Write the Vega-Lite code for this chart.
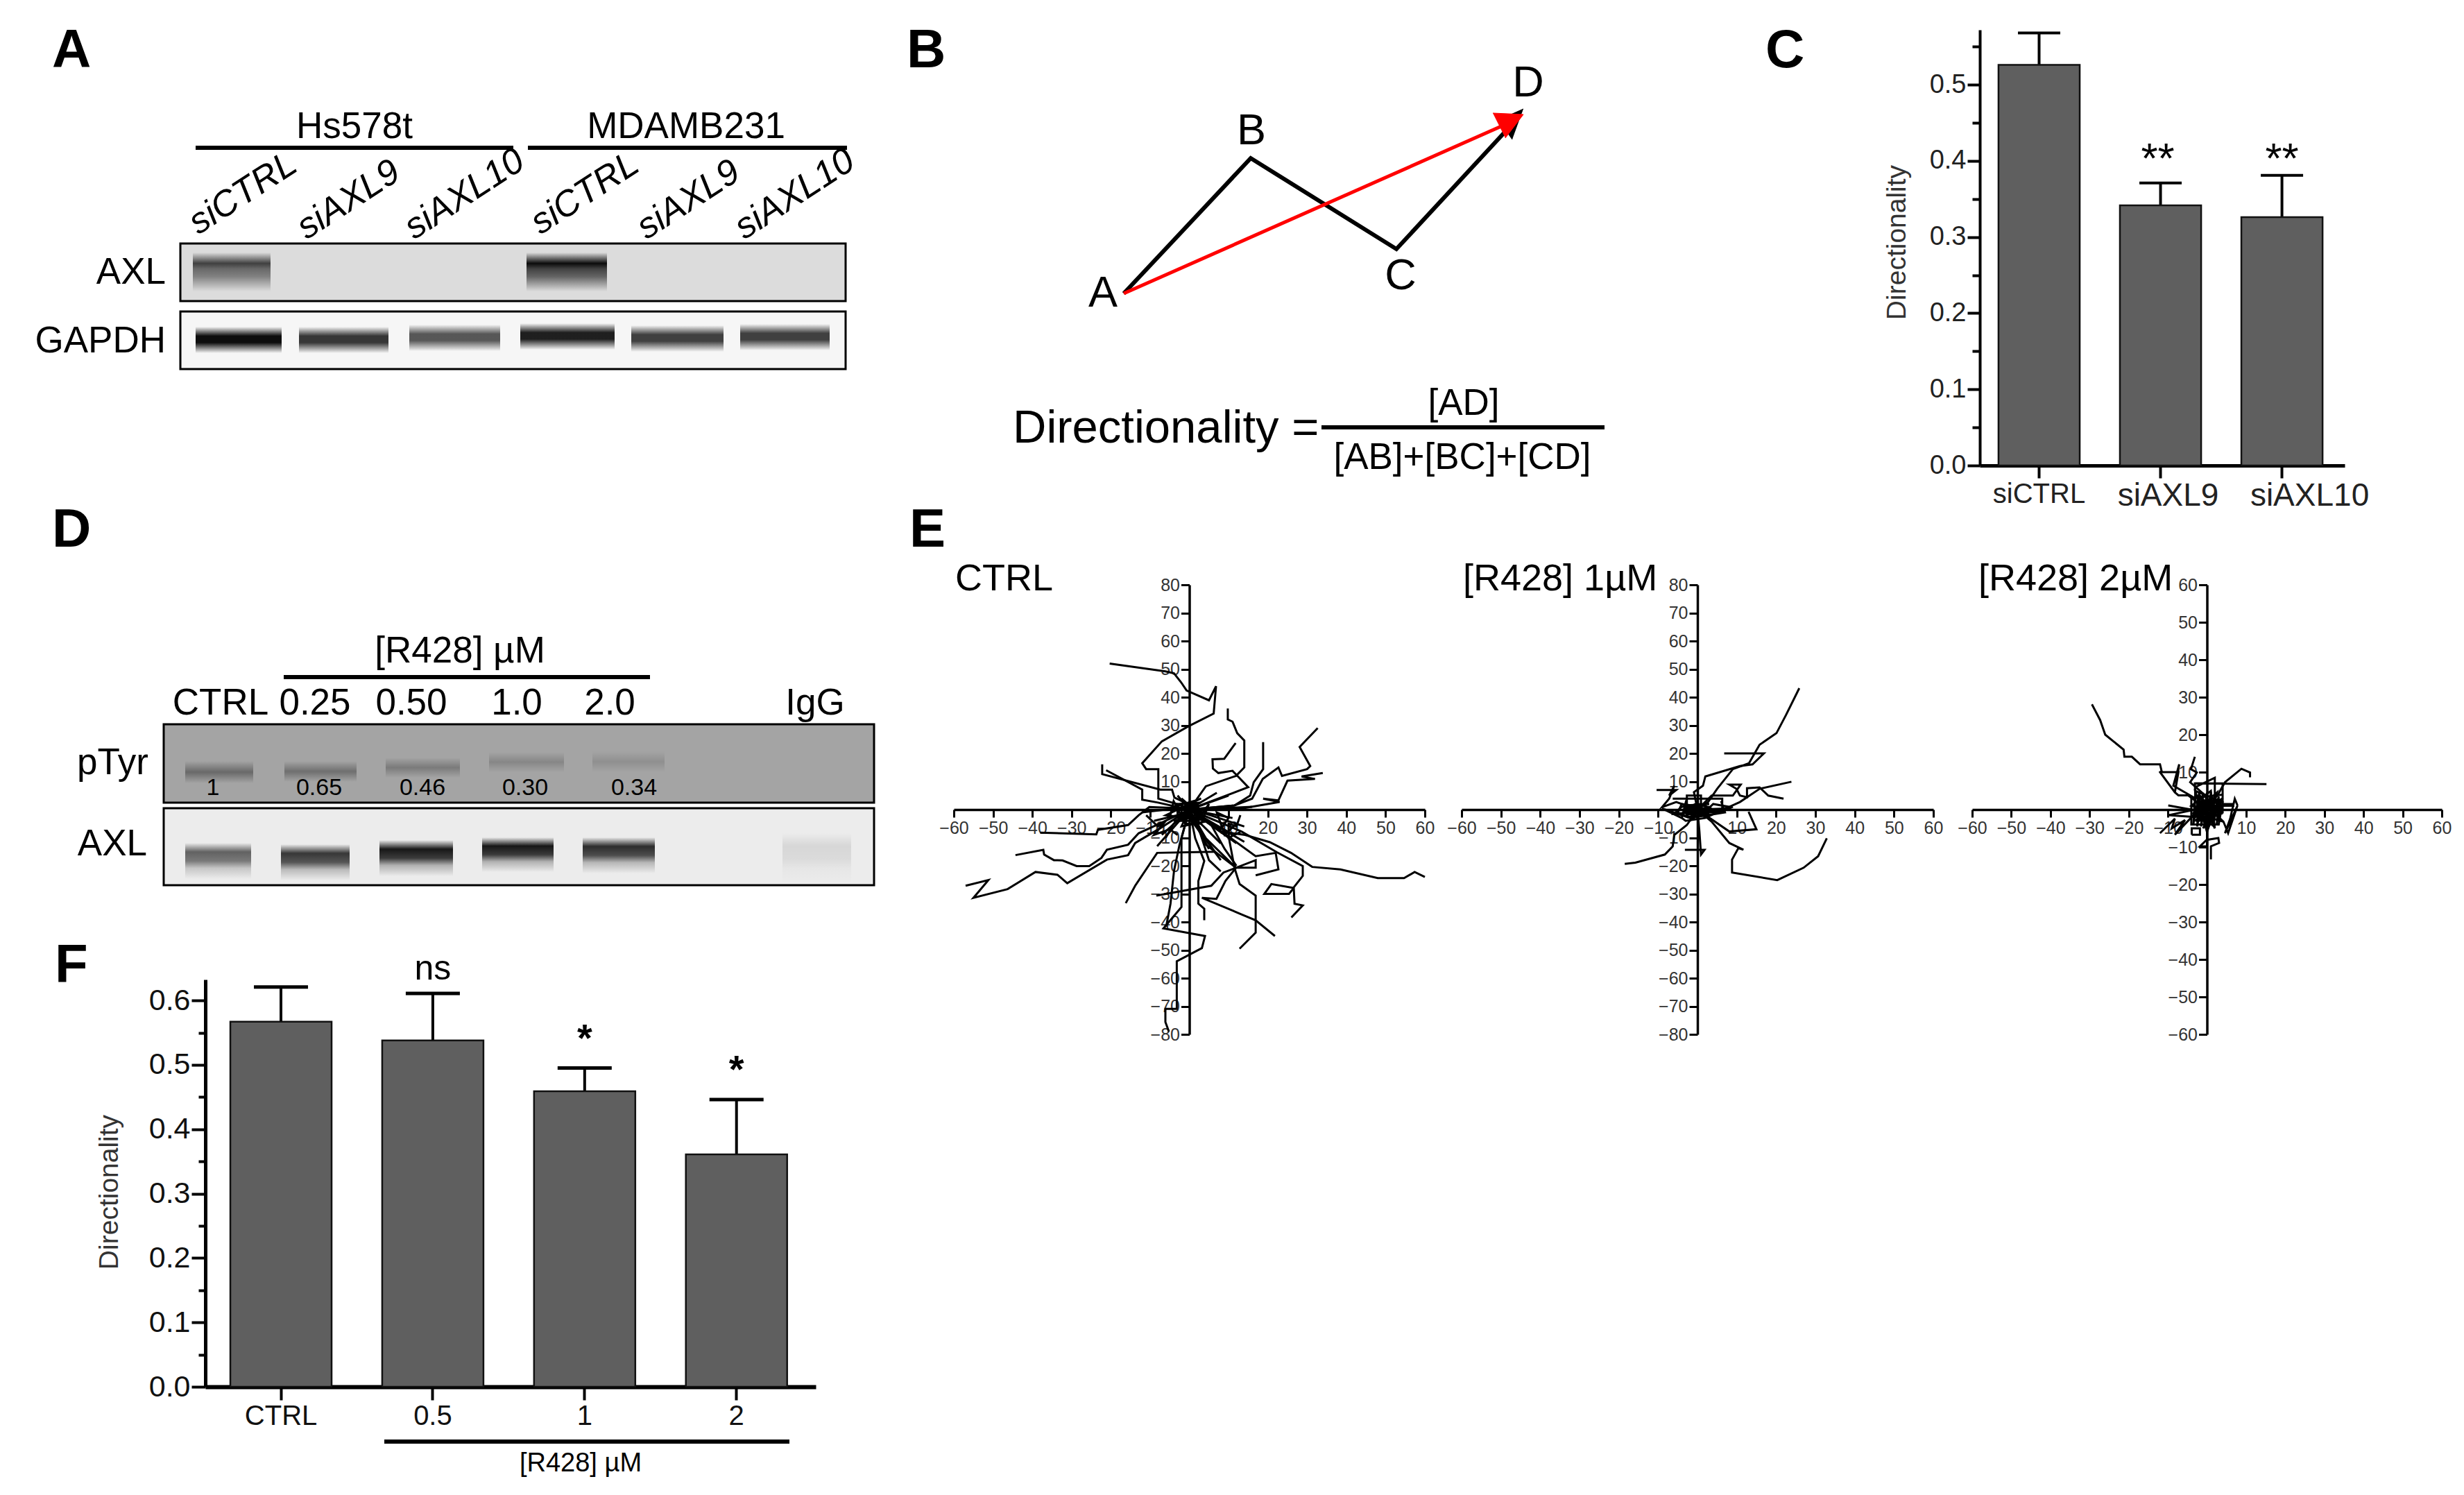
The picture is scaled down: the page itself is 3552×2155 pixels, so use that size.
{
"$schema":"https://vega.github.io/schema/vega-lite/v6.json",
"padding":0,
"bounds":"flush",
"spacing":0,
"config":{"view":{"stroke":null},"font":"Liberation Sans","text":{"font":"Liberation Sans","color":"#000"},"concat":{"spacing":0},"axis":{"grid":false,"labelFont":"Liberation Sans","titleFont":"Liberation Sans","labelOverlap":false,"labelBound":false,"labelFlush":false,"titleFontWeight":"normal","tickColor":"#000","domainColor":"#000"}},
"hconcat":[
{
"width":1,"height":1,
"encoding":{"x":{"field":"x","type":"quantitative","scale":{"domain":[0,3552],"range":[0,3552],"nice":false,"zero":false},"axis":null},"y":{"field":"y","type":"quantitative","scale":{"domain":[0,2155],"range":[0,2155],"nice":false,"zero":false},"axis":null}},
"layer":[
{"data":{"values":[
{"blot":"A-AXL","x":260,"x2":1219,"y":348,"y2":431},
{"blot":"A-GAPDH","x":260,"x2":1219,"y":446,"y2":529},
{"blot":"D-pTyr","x":236,"x2":1260,"y":1041,"y2":1154},
{"blot":"D-AXL","x":236,"x2":1260,"y":1162,"y2":1273}
]},"mark":{"type":"rect","stroke":"#000","strokeWidth":3},"encoding":{"x2":{"field":"x2"},"y2":{"field":"y2"},"color":{"field":"blot","type":"nominal","legend":null,"scale":{"domain":["A-AXL","A-GAPDH","D-pTyr","D-AXL"],"range":["#dcdcdc","#f6f6f6","#a4a4a4","#ececec"]}}}},
{"data":{"values":[
{"lane":"siCTRL Hs578t","x":278,"x2":390,"y":361,"y2":417,"intensity":0.75},
{"lane":"siCTRL MDAMB231","x":759,"x2":875,"y":361,"y2":417,"intensity":1}
]},"mark":{"type":"rect","fill":{"gradient":"linear","x1":0,"y1":0,"x2":0,"y2":1,"stops":[{"offset":0,"color":"rgba(0,0,0,0)"},{"offset":0.28,"color":"rgba(0,0,0,0.95)"},{"offset":0.42,"color":"rgba(0,0,0,0.7)"},{"offset":0.62,"color":"rgba(0,0,0,0.55)"},{"offset":1,"color":"rgba(0,0,0,0)"}]}},"encoding":{"x2":{"field":"x2"},"y2":{"field":"y2"},"opacity":{"field":"intensity","type":"quantitative","scale":null,"legend":null}}},
{"data":{"values":[
{"lane":"1","x":282,"x2":406,"y":468,"y2":506,"intensity":1},
{"lane":"2","x":431,"x2":560,"y":468,"y2":506,"intensity":0.82},
{"lane":"3","x":590,"x2":721,"y":465,"y2":503,"intensity":0.68},
{"lane":"4","x":750,"x2":886,"y":463,"y2":501,"intensity":0.92},
{"lane":"5","x":910,"x2":1043,"y":466,"y2":504,"intensity":0.78},
{"lane":"6","x":1067,"x2":1196,"y":464,"y2":502,"intensity":0.78}
]},"mark":{"type":"rect","fill":{"gradient":"linear","x1":0,"y1":0,"x2":0,"y2":1,"stops":[{"offset":0,"color":"rgba(0,0,0,0)"},{"offset":0.35,"color":"rgba(0,0,0,0.95)"},{"offset":0.6,"color":"rgba(0,0,0,0.95)"},{"offset":1,"color":"rgba(0,0,0,0)"}]}},"encoding":{"x2":{"field":"x2"},"y2":{"field":"y2"},"opacity":{"field":"intensity","type":"quantitative","scale":null,"legend":null}}},
{"data":{"values":[
{"lane":"CTRL","x":267,"x2":365,"y":1094,"y2":1126,"intensity":0.4},
{"lane":"0.25","x":410,"x2":514,"y":1094,"y2":1124,"intensity":0.36},
{"lane":"0.50","x":556,"x2":663,"y":1089,"y2":1118,"intensity":0.28},
{"lane":"1.0","x":705,"x2":813,"y":1081,"y2":1110,"intensity":0.2},
{"lane":"2.0","x":854,"x2":958,"y":1080,"y2":1110,"intensity":0.14}
]},"mark":{"type":"rect","fill":{"gradient":"linear","x1":0,"y1":0,"x2":0,"y2":1,"stops":[{"offset":0,"color":"rgba(0,0,0,0)"},{"offset":0.5,"color":"rgba(0,0,0,0.9)"},{"offset":1,"color":"rgba(0,0,0,0)"}]}},"encoding":{"x2":{"field":"x2"},"y2":{"field":"y2"},"opacity":{"field":"intensity","type":"quantitative","scale":null,"legend":null}}},
{"data":{"values":[
{"lane":"CTRL","x":267,"x2":362,"y":1212,"y2":1264,"intensity":0.65},
{"lane":"0.25","x":405,"x2":504,"y":1214,"y2":1266,"intensity":0.85},
{"lane":"0.50","x":547,"x2":653,"y":1208,"y2":1260,"intensity":1},
{"lane":"1.0","x":695,"x2":798,"y":1204,"y2":1254,"intensity":1},
{"lane":"2.0","x":840,"x2":944,"y":1204,"y2":1256,"intensity":0.9},
{"lane":"IgG","x":1128,"x2":1227,"y":1198,"y2":1271,"intensity":0.1}
]},"mark":{"type":"rect","fill":{"gradient":"linear","x1":0,"y1":0,"x2":0,"y2":1,"stops":[{"offset":0,"color":"rgba(0,0,0,0)"},{"offset":0.25,"color":"rgba(0,0,0,0.9)"},{"offset":0.5,"color":"rgba(0,0,0,0.75)"},{"offset":0.7,"color":"rgba(0,0,0,0.25)"},{"offset":1,"color":"rgba(0,0,0,0)"}]}},"encoding":{"x2":{"field":"x2"},"y2":{"field":"y2"},"opacity":{"field":"intensity","type":"quantitative","scale":null,"legend":null}}},
{"data":{"values":[
{"x":282,"x2":740,"y":210},{"x":761,"x2":1221,"y":210},{"x":409,"x2":937,"y":973},{"x":1905,"x2":2313,"y":613},{"x":554,"x2":1138,"y":2075}
]},"mark":{"type":"rule","color":"#000","strokeWidth":6},"encoding":{"x2":{"field":"x2"}}},
{"data":{"values":[{"s":0,"x":1620,"y":420},{"s":1,"x":1803,"y":225},{"s":2,"x":2013,"y":356},{"s":3,"x":2190,"y":165}]},"mark":{"type":"line","color":"#000","strokeWidth":6,"strokeJoin":"miter"},"encoding":{"order":{"field":"s"}}},
{"data":{"values":[{"s":0,"x":2196,"y":154},{"s":1,"x":2160,"y":170},{"s":2,"x":2180,"y":198}]},"mark":{"type":"line","color":"#000","fill":"#000","strokeWidth":1},"encoding":{"order":{"field":"s"}}},
{"data":{"values":[{"s":0,"x":1620,"y":420},{"s":1,"x":2180,"y":172}]},"mark":{"type":"line","color":"#ff0000","strokeWidth":5},"encoding":{"order":{"field":"s"}}},
{"data":{"values":[{"s":0,"x":2152,"y":160},{"s":1,"x":2196,"y":162},{"s":2,"x":2170,"y":196}]},"mark":{"type":"line","color":"#ff0000","fill":"#ff0000","strokeWidth":1},"encoding":{"order":{"field":"s"}}},
{"data":{"values":[{"label":"A","x":75,"y":94},{"label":"B","x":1307,"y":94},{"label":"C","x":2545,"y":94},{"label":"D","x":75,"y":785},{"label":"E","x":1311,"y":785},{"label":"F","x":79,"y":1413}]},"mark":{"type":"text","fontWeight":"bold","fontSize":78,"align":"left","baseline":"alphabetic"},"encoding":{"text":{"field":"label"}}},
{"data":{"values":[{"label":"Hs578t","x":511,"y":180},{"label":"MDAMB231","x":989,"y":180},{"label":"[R428] µM","x":663,"y":936},{"label":"CTRL","x":318,"y":1011},{"label":"0.25","x":454,"y":1011},{"label":"0.50","x":593,"y":1011},{"label":"1.0","x":745,"y":1011},{"label":"2.0","x":879,"y":1011},{"label":"IgG","x":1175,"y":1011},{"label":"[AD]","x":2110,"y":579},{"label":"[AB]+[BC]+[CD]","x":2108,"y":657}]},"mark":{"type":"text","fontSize":53,"align":"center","baseline":"middle"},"encoding":{"text":{"field":"label"}}},
{"data":{"values":[{"label":"AXL","x":239,"y":390},{"label":"GAPDH","x":239,"y":489},{"label":"pTyr","x":214,"y":1097},{"label":"AXL","x":212,"y":1214}]},"mark":{"type":"text","fontSize":53,"align":"right","baseline":"middle"},"encoding":{"text":{"field":"label"}}},
{"data":{"values":[{"label":"CTRL","x":1377,"y":832},{"label":"[R428] 1µM","x":2109,"y":832},{"label":"[R428] 2µM","x":2852,"y":832}]},"mark":{"type":"text","fontSize":54,"align":"left","baseline":"middle"},"encoding":{"text":{"field":"label"}}},
{"data":{"values":[{"label":"siCTRL","x":270,"y":337},{"label":"siAXL9","x":426,"y":344},{"label":"siAXL10","x":581,"y":344},{"label":"siCTRL","x":763,"y":337},{"label":"siAXL9","x":916,"y":344},{"label":"siAXL10","x":1057,"y":344}]},"mark":{"type":"text","fontSize":52,"fontStyle":"italic","angle":327,"align":"left","baseline":"alphabetic","dx":14,"dy":8},"encoding":{"text":{"field":"label"}}},
{"data":{"values":[{"label":"1","x":307,"y":1133},{"label":"0.65","x":460,"y":1133},{"label":"0.46","x":609,"y":1133},{"label":"0.30","x":757,"y":1133},{"label":"0.34","x":914,"y":1133}]},"mark":{"type":"text","fontSize":34,"align":"center","baseline":"middle"},"encoding":{"text":{"field":"label"}}},
{"data":{"values":[{"label":"A","x":1590,"y":420},{"label":"B","x":1804,"y":186},{"label":"C","x":2019,"y":395},{"label":"D","x":2203,"y":117}]},"mark":{"type":"text","fontSize":63,"align":"center","baseline":"middle"},"encoding":{"text":{"field":"label"}}},
{"data":{"values":[{"label":"Directionality =","x":1460,"y":615}]},"mark":{"type":"text","fontSize":67,"align":"left","baseline":"middle"},"encoding":{"text":{"field":"label"}}},
{"data":{"values":[{"label":"[R428] µM","x":837,"y":2107}]},"mark":{"type":"text","fontSize":38,"align":"center","baseline":"middle"},"encoding":{"text":{"field":"label"}}}
]
},
{
"bounds":"flush",
"spacing":0,
"hconcat":[
{"data":{"values":[{"v":0}]},"mark":{"type":"point","opacity":0},"width":295,"height":1},
{"bounds":"flush","spacing":0,"vconcat":[
{"data":{"values":[{"v":0}]},"mark":{"type":"point","opacity":0},"width":1,"height":1409},
{"width":880,"height":587,
"data":{"values":[{"dose":"CTRL","mean":0.567,"top":0.621,"sig":""},{"dose":"0.5","mean":0.538,"top":0.611,"sig":"ns"},{"dose":"1","mean":0.459,"top":0.495,"sig":"*"},{"dose":"2","mean":0.361,"top":0.446,"sig":"*"}]},
"encoding":{
"x":{"field":"dose","type":"nominal","scale":{"domain":["CTRL","0.5","1","2"],"paddingInner":0.333,"paddingOuter":0.1766,"align":0.466},"axis":{"title":null,"labelAngle":0,"labelFontSize":40,"labelColor":"#111","tickSize":19,"tickWidth":4,"domainWidth":6,"labelPadding":3}},
"y":{"type":"quantitative","scale":{"domain":[0,0.6325],"nice":false},"axis":{"title":"Directionality","titleFontSize":39,"titleColor":"#333","titleX":-139,"titleY":306,"titleBaseline":"middle","values":[0,0.05,0.1,0.15,0.2,0.25,0.3,0.35,0.4,0.45,0.5,0.55,0.6],"labelExpr":"abs(datum.value*10-round(datum.value*10))<0.01 ? format(datum.value,'.1f') : ''","tickSize":{"condition":{"test":"abs(datum.value*10-round(datum.value*10))<0.01","value":20},"value":10},"tickWidth":4,"domainWidth":5,"labelFontSize":43,"labelColor":"#111","labelPadding":2}}
},
"layer":[
{"mark":{"type":"rule","color":"#000","strokeWidth":4},"encoding":{"y":{"field":"mean"},"y2":{"field":"top"}}},
{"mark":{"type":"tick","orient":"horizontal","color":"#000","size":78,"thickness":5,"opacity":1},"encoding":{"y":{"field":"top"}}},
{"mark":{"type":"bar","fill":"#5f5f5f","stroke":"#111","strokeWidth":2.5},"encoding":{"y":{"field":"mean"}}},
{"transform":[{"filter":"datum.sig=='ns'"}],"mark":{"type":"text","fontSize":50,"baseline":"alphabetic","dy":-20},"encoding":{"y":{"field":"top"},"text":{"field":"sig"}}},
{"transform":[{"filter":"datum.sig=='*'"}],"mark":{"type":"text","fontSize":56,"fontWeight":"bold","baseline":"alphabetic","dy":-25},"encoding":{"y":{"field":"top"},"text":{"field":"sig"}}}
]}
]},
{"data":{"values":[{"v":0}]},"mark":{"type":"point","opacity":0},"width":1079,"height":1},
{"bounds":"flush","spacing":0,"vconcat":[
{"data":{"values":[{"v":0}]},"mark":{"type":"point","opacity":0},"width":1,"height":840},
{"width":679,"height":648,
"data":{"values":[
{"t":1,"s":0,"x":-20.3,"y":52},{"t":1,"s":1,"x":-6.1,"y":49.2},{"t":1,"s":2,"x":-3.9,"y":48.5},{"t":1,"s":3,"x":-2.1,"y":45.3},{"t":1,"s":4,"x":-0.7,"y":42.4},{"t":1,"s":5,"x":5,"y":38.9},{"t":1,"s":6,"x":6.8,"y":43.9},{"t":1,"s":7,"x":6.2,"y":34.2},{"t":1,"s":8,"x":-0.3,"y":29.6},{"t":1,"s":9,"x":-7,"y":24.3},{"t":1,"s":10,"x":-12,"y":16.5},{"t":1,"s":11,"x":-11,"y":14.4},{"t":1,"s":12,"x":-7.9,"y":14.4},{"t":1,"s":13,"x":-7.9,"y":3.9},{"t":1,"s":14,"x":-2,"y":1.5},{"t":1,"s":15,"x":0,"y":0},
{"t":2,"s":0,"x":9.8,"y":36},{"t":2,"s":1,"x":9.8,"y":32.1},{"t":2,"s":2,"x":11,"y":31.3},{"t":2,"s":3,"x":12.2,"y":27.2},{"t":2,"s":4,"x":14,"y":24.6},{"t":2,"s":5,"x":14,"y":15},{"t":2,"s":6,"x":11.9,"y":12},{"t":2,"s":7,"x":4.2,"y":8.3},{"t":2,"s":8,"x":2,"y":3.9},{"t":2,"s":9,"x":0,"y":0},
{"t":3,"s":0,"x":11.8,"y":23.7},{"t":3,"s":1,"x":8.9,"y":18.1},{"t":3,"s":2,"x":5.9,"y":17.9},{"t":3,"s":3,"x":6,"y":14.6},{"t":3,"s":4,"x":7.4,"y":13},{"t":3,"s":5,"x":11,"y":13.8},{"t":3,"s":6,"x":15,"y":8},{"t":3,"s":7,"x":8.3,"y":4.4},{"t":3,"s":8,"x":0,"y":0},
{"t":4,"s":0,"x":18.8,"y":24},{"t":4,"s":1,"x":18.8,"y":14.4},{"t":4,"s":2,"x":16.4,"y":9.7},{"t":4,"s":3,"x":15.5,"y":5},{"t":4,"s":4,"x":11.5,"y":1.5},{"t":4,"s":5,"x":0,"y":0},
{"t":5,"s":0,"x":32.7,"y":29},{"t":5,"s":1,"x":28.1,"y":22.3},{"t":5,"s":2,"x":30.8,"y":15.5},{"t":5,"s":3,"x":30,"y":14.4},{"t":5,"s":4,"x":23.6,"y":12},{"t":5,"s":5,"x":22.7,"y":15},{"t":5,"s":6,"x":18.7,"y":10.9},{"t":5,"s":7,"x":16,"y":3.9},{"t":5,"s":8,"x":11.5,"y":1.5},{"t":5,"s":9,"x":0,"y":0},
{"t":6,"s":0,"x":34,"y":13},{"t":6,"s":1,"x":28.6,"y":11.8},{"t":6,"s":2,"x":32,"y":10.9},{"t":6,"s":3,"x":25,"y":10.3},{"t":6,"s":4,"x":22.7,"y":3.3},{"t":6,"s":5,"x":18.8,"y":3.9},{"t":6,"s":6,"x":23,"y":2.7},{"t":6,"s":7,"x":13.3,"y":0.4},{"t":6,"s":8,"x":0,"y":0},
{"t":7,"s":0,"x":-22.2,"y":16.1},{"t":7,"s":1,"x":-22.2,"y":12.6},{"t":7,"s":2,"x":-7.4,"y":7.1},{"t":7,"s":3,"x":-4.4,"y":7.1},{"t":7,"s":4,"x":-3.8,"y":4.3},{"t":7,"s":5,"x":-1.4,"y":2.7},{"t":7,"s":6,"x":0,"y":0},
{"t":8,"s":0,"x":-21.2,"y":14},{"t":8,"s":1,"x":-12,"y":7.1},{"t":8,"s":2,"x":-12,"y":3.5},{"t":8,"s":3,"x":-8,"y":2.5},{"t":8,"s":4,"x":0,"y":0},
{"t":9,"s":0,"x":-38,"y":-8.2},{"t":9,"s":1,"x":-23.7,"y":-8.8},{"t":9,"s":2,"x":-23.3,"y":-7.2},{"t":9,"s":3,"x":-15.6,"y":-5.5},{"t":9,"s":4,"x":-12.9,"y":-2},{"t":9,"s":5,"x":-10.2,"y":0.9},{"t":9,"s":6,"x":-4.8,"y":0.6},{"t":9,"s":7,"x":0,"y":0},
{"t":10,"s":0,"x":-44.3,"y":-16.2},{"t":10,"s":1,"x":-37.2,"y":-14.3},{"t":10,"s":2,"x":-37,"y":-16},{"t":10,"s":3,"x":-34.5,"y":-18},{"t":10,"s":4,"x":-32.3,"y":-18.1},{"t":10,"s":5,"x":-28.7,"y":-20.1},{"t":10,"s":6,"x":-25.5,"y":-20.1},{"t":10,"s":7,"x":-22.4,"y":-17.2},{"t":10,"s":8,"x":-21,"y":-14.3},{"t":10,"s":9,"x":-15.6,"y":-12.5},{"t":10,"s":10,"x":-12.9,"y":-8.4},{"t":10,"s":11,"x":-8.4,"y":-5.5},{"t":10,"s":12,"x":0,"y":0},
{"t":11,"s":0,"x":-57,"y":-27.1},{"t":11,"s":1,"x":-51.2,"y":-25.1},{"t":11,"s":2,"x":-55,"y":-31.4},{"t":11,"s":3,"x":-46.3,"y":-28.3},{"t":11,"s":4,"x":-39.2,"y":-22.2},{"t":11,"s":5,"x":-33.6,"y":-23.2},{"t":11,"s":6,"x":-31.1,"y":-26.2},{"t":11,"s":7,"x":-21,"y":-17.8},{"t":11,"s":8,"x":-15.6,"y":-16.2},{"t":11,"s":9,"x":-13.8,"y":-11.9},{"t":11,"s":10,"x":-7.5,"y":-6.7},{"t":11,"s":11,"x":0,"y":0},
{"t":12,"s":0,"x":-16.2,"y":-33.3},{"t":12,"s":1,"x":-13.8,"y":-27.1},{"t":12,"s":2,"x":-8.2,"y":-15.4},{"t":12,"s":3,"x":6.5,"y":-15},{"t":12,"s":4,"x":3,"y":-8},{"t":12,"s":5,"x":0,"y":0},
{"t":13,"s":0,"x":60,"y":-24},{"t":13,"s":1,"x":57.4,"y":-22.2},{"t":13,"s":2,"x":54.7,"y":-24.4},{"t":13,"s":3,"x":48,"y":-24.4},{"t":13,"s":4,"x":38.5,"y":-21.3},{"t":13,"s":5,"x":31.3,"y":-20.4},{"t":13,"s":6,"x":25.9,"y":-15.4},{"t":13,"s":7,"x":20.5,"y":-11.6},{"t":13,"s":8,"x":14.2,"y":-9},{"t":13,"s":9,"x":7.8,"y":-7.8},{"t":13,"s":10,"x":0,"y":0},
{"t":14,"s":0,"x":26,"y":-38.4},{"t":14,"s":1,"x":28.9,"y":-34.1},{"t":14,"s":2,"x":26.8,"y":-33.5},{"t":14,"s":3,"x":26.6,"y":-27.7},{"t":14,"s":4,"x":28.9,"y":-23.6},{"t":14,"s":5,"x":28.9,"y":-20.1},{"t":14,"s":6,"x":22.3,"y":-15.2},{"t":14,"s":7,"x":13.3,"y":-7.8},{"t":14,"s":8,"x":0,"y":0},
{"t":15,"s":0,"x":26.6,"y":-27.9},{"t":15,"s":1,"x":25.4,"y":-30},{"t":15,"s":2,"x":19.1,"y":-30},{"t":15,"s":3,"x":20.9,"y":-26.5},{"t":15,"s":4,"x":26.6,"y":-27.9},
{"t":16,"s":0,"x":16.9,"y":-23.4},{"t":16,"s":1,"x":22.7,"y":-21.3},{"t":16,"s":2,"x":22,"y":-15.4},{"t":16,"s":3,"x":16.9,"y":-16.6},{"t":16,"s":4,"x":10.6,"y":-10.2},{"t":16,"s":5,"x":0,"y":0},
{"t":17,"s":0,"x":12.8,"y":-49.5},{"t":17,"s":1,"x":16.9,"y":-43.8},{"t":17,"s":2,"x":16.9,"y":-30.6},{"t":17,"s":3,"x":12.8,"y":-26.5},{"t":17,"s":4,"x":11.5,"y":-20.7},{"t":17,"s":5,"x":10.1,"y":-10.2},{"t":17,"s":6,"x":10,"y":-8},{"t":17,"s":7,"x":0,"y":0},
{"t":18,"s":0,"x":21.8,"y":-45},{"t":18,"s":1,"x":16.9,"y":-39.4},{"t":18,"s":2,"x":13.3,"y":-37.3},{"t":18,"s":3,"x":3.2,"y":-31.4},{"t":18,"s":4,"x":6.9,"y":-31.8},{"t":18,"s":5,"x":9.2,"y":-25.4},{"t":18,"s":6,"x":11.9,"y":-20.7},{"t":18,"s":7,"x":16.9,"y":-20.7},{"t":18,"s":8,"x":16.9,"y":-18},{"t":18,"s":9,"x":11.9,"y":-20.7},{"t":18,"s":10,"x":4.2,"y":-10.2},{"t":18,"s":11,"x":0,"y":0},
{"t":19,"s":0,"x":3.8,"y":-39.4},{"t":19,"s":1,"x":3.8,"y":-35.3},{"t":19,"s":2,"x":2.3,"y":-33.5},{"t":19,"s":3,"x":2.3,"y":-25.4},{"t":19,"s":4,"x":3.8,"y":-18.3},{"t":19,"s":5,"x":1.5,"y":-10.2},{"t":19,"s":6,"x":0,"y":0},
{"t":20,"s":0,"x":-8.4,"y":-30.6},{"t":20,"s":1,"x":5.6,"y":-27.1},{"t":20,"s":2,"x":8.7,"y":-22.4},{"t":20,"s":3,"x":11.9,"y":-20.7},{"t":20,"s":4,"x":4.2,"y":-12.5},{"t":20,"s":5,"x":0,"y":0},
{"t":21,"s":0,"x":-5.2,"y":-79},{"t":21,"s":1,"x":-6.1,"y":-75.6},{"t":21,"s":2,"x":-6.1,"y":-70.9},{"t":21,"s":3,"x":-3.2,"y":-70.9},{"t":21,"s":4,"x":-3.2,"y":-54},{"t":21,"s":5,"x":3.2,"y":-49.3},{"t":21,"s":6,"x":4,"y":-45},{"t":21,"s":7,"x":-6.6,"y":-42.3},{"t":21,"s":8,"x":-2,"y":-34.7},{"t":21,"s":9,"x":-2,"y":-21.8},{"t":21,"s":10,"x":-2,"y":-10.2},{"t":21,"s":11,"x":0,"y":0},
{"t":22,"s":0,"x":-5.9,"y":-41.7},{"t":22,"s":1,"x":-4.8,"y":-33.5},{"t":22,"s":2,"x":-3.9,"y":-21.8},{"t":22,"s":3,"x":-2.5,"y":-12.5},{"t":22,"s":4,"x":0,"y":0},
{"t":23,"s":0,"x":-8.2,"y":-13},{"t":23,"s":1,"x":0,"y":0},
{"t":24,"s":0,"x":-7,"y":-9},{"t":24,"s":1,"x":0.5,"y":0.5},
{"t":25,"s":0,"x":5,"y":-14},{"t":25,"s":1,"x":-0.5,"y":0},
{"t":26,"s":0,"x":8,"y":-12},{"t":26,"s":1,"x":0,"y":-1},
{"t":27,"s":0,"x":12,"y":-12},{"t":27,"s":1,"x":1,"y":-1},
{"t":28,"s":0,"x":14,"y":-11.5},{"t":28,"s":1,"x":0,"y":0},
{"t":29,"s":0,"x":8,"y":-18},{"t":29,"s":1,"x":-1,"y":-1},
{"t":30,"s":0,"x":10,"y":5},{"t":30,"s":1,"x":0,"y":0},
{"t":31,"s":0,"x":7,"y":6},{"t":31,"s":1,"x":1,"y":1},
{"t":32,"s":0,"x":-3,"y":5},{"t":32,"s":1,"x":0,"y":0},
{"t":33,"s":0,"x":-2,"y":4},{"t":33,"s":1,"x":2,"y":-1},
{"t":34,"s":0,"x":16,"y":1},{"t":34,"s":1,"x":0,"y":0},
{"t":35,"s":0,"x":-9,"y":-4},{"t":35,"s":1,"x":0,"y":-1},
{"t":36,"s":0,"x":-12,"y":-1},{"t":36,"s":1,"x":0,"y":1},
{"t":37,"s":0,"x":11,"y":-3},{"t":37,"s":1,"x":0,"y":0},
{"t":38,"s":0,"x":14,"y":-6},{"t":38,"s":1,"x":1,"y":0},
{"t":39,"s":0,"x":-6,"y":-10},{"t":39,"s":1,"x":-4,"y":-5},{"t":39,"s":2,"x":1,"y":0},
{"t":40,"s":0,"x":3,"y":2.5},{"t":40,"s":1,"x":-3,"y":2},{"t":40,"s":2,"x":-3,"y":-3},{"t":40,"s":3,"x":3,"y":-3},{"t":40,"s":4,"x":2,"y":2},{"t":40,"s":5,"x":-2,"y":1},{"t":40,"s":6,"x":-2,"y":-2},{"t":40,"s":7,"x":2,"y":-2},{"t":40,"s":8,"x":1,"y":1},{"t":40,"s":9,"x":-1,"y":0},{"t":40,"s":10,"x":1,"y":-1},
{"t":41,"s":0,"x":13,"y":-2},{"t":41,"s":1,"x":12,"y":-6},{"t":41,"s":2,"x":10,"y":-5},{"t":41,"s":3,"x":10,"y":-10},{"t":41,"s":4,"x":13,"y":-8},
{"t":42,"s":0,"x":5,"y":-4},{"t":42,"s":1,"x":9,"y":-14},{"t":42,"s":2,"x":12,"y":-20},
{"t":43,"s":0,"x":2,"y":-5},{"t":43,"s":1,"x":5,"y":-18},{"t":43,"s":2,"x":8,"y":-22},
{"t":44,"s":0,"x":-5,"y":-3},{"t":44,"s":1,"x":-4,"y":3},{"t":44,"s":2,"x":-1,"y":-5},{"t":44,"s":3,"x":3,"y":-5},{"t":44,"s":4,"x":5,"y":2},{"t":44,"s":5,"x":2,"y":-4},{"t":44,"s":6,"x":-4,"y":-4},{"t":44,"s":7,"x":4,"y":-2},{"t":44,"s":8,"x":-4,"y":1},{"t":44,"s":9,"x":1,"y":3},{"t":44,"s":10,"x":-2,"y":-6},{"t":44,"s":11,"x":5,"y":-4},{"t":44,"s":12,"x":-6,"y":-2},{"t":44,"s":13,"x":3,"y":4},
{"t":45,"s":0,"x":6,"y":-5},{"t":45,"s":1,"x":8,"y":-7},{"t":45,"s":2,"x":10,"y":-3},{"t":45,"s":3,"x":7,"y":-1},{"t":45,"s":4,"x":9,"y":-9},{"t":45,"s":5,"x":12,"y":-5},
{"t":46,"s":0,"x":-11,"y":-2},{"t":46,"s":1,"x":-8,"y":-6},{"t":46,"s":2,"x":-6,"y":-4},{"t":46,"s":3,"x":-9,"y":-9},{"t":46,"s":4,"x":-5,"y":-7},{"t":46,"s":5,"x":-3,"y":-9}
]},
"mark":{"type":"line","color":"#000","strokeWidth":3},
"encoding":{
"x":{"field":"x","type":"quantitative","scale":{"domain":[-60,60],"nice":false,"zero":false},"axis":{"title":null,"offset":-324,"values":[-60,-50,-40,-30,-20,-10,10,20,30,40,50,60],"labelFontSize":25,"labelColor":"#333","tickSize":11,"tickWidth":3,"domainWidth":3.5,"labelPadding":3}},
"y":{"field":"y","type":"quantitative","scale":{"domain":[-80,80],"nice":false,"zero":false},"axis":{"title":null,"offset":-339.5,"values":[-80,-70,-60,-50,-40,-30,-20,-10,10,20,30,40,50,60,70,80],"labelFontSize":25,"labelColor":"#333","tickSize":12,"tickWidth":3,"domainWidth":3.5,"labelPadding":2}},
"detail":{"field":"t"},"order":{"field":"s"}}}
]},
{"data":{"values":[{"v":0}]},"mark":{"type":"point","opacity":0},"width":732,"height":1},
{"bounds":"flush","spacing":0,"vconcat":[
{"data":{"values":[{"v":0}]},"mark":{"type":"point","opacity":0},"width":1,"height":840},
{"width":680,"height":648,
"data":{"values":[
{"t":1,"s":0,"x":25.9,"y":43.2},{"t":1,"s":1,"x":22.5,"y":33.6},{"t":1,"s":2,"x":20.1,"y":27.2},{"t":1,"s":3,"x":15.8,"y":23.1},{"t":1,"s":4,"x":13.1,"y":16.5},{"t":1,"s":5,"x":9,"y":14.4},{"t":1,"s":6,"x":5,"y":7.4},{"t":1,"s":7,"x":2.7,"y":2.7},{"t":1,"s":8,"x":0,"y":0},
{"t":2,"s":0,"x":6.8,"y":20},{"t":2,"s":1,"x":16.9,"y":20},{"t":2,"s":2,"x":14,"y":16.1},{"t":2,"s":3,"x":10.8,"y":15.5},{"t":2,"s":4,"x":2,"y":11.8},{"t":2,"s":5,"x":1.4,"y":8.5},{"t":2,"s":6,"x":-0.9,"y":6.2},{"t":2,"s":7,"x":0,"y":0},
{"t":3,"s":0,"x":23.9,"y":9.9},{"t":3,"s":1,"x":15.8,"y":7.4},{"t":3,"s":2,"x":10.8,"y":2.7},{"t":3,"s":3,"x":7.2,"y":0.4},{"t":3,"s":4,"x":0,"y":0},
{"t":4,"s":0,"x":21.9,"y":3.9},{"t":4,"s":1,"x":18,"y":5},{"t":4,"s":2,"x":15.8,"y":7.9},{"t":4,"s":3,"x":12.6,"y":7.6},{"t":4,"s":4,"x":12.6,"y":4.4},{"t":4,"s":5,"x":10.8,"y":5},{"t":4,"s":6,"x":9.9,"y":7.4},{"t":4,"s":7,"x":8.1,"y":8.9},{"t":4,"s":8,"x":11,"y":8.9},{"t":4,"s":9,"x":9,"y":5},{"t":4,"s":10,"x":3.6,"y":5},{"t":4,"s":11,"x":0,"y":0},
{"t":5,"s":0,"x":32.9,"y":-10.2},{"t":5,"s":1,"x":30.7,"y":-16.6},{"t":5,"s":2,"x":27,"y":-20.7},{"t":5,"s":3,"x":20.3,"y":-25.1},{"t":5,"s":4,"x":8.8,"y":-22.4},{"t":5,"s":5,"x":8.8,"y":-17.8},{"t":5,"s":6,"x":10.4,"y":-13.7},{"t":5,"s":7,"x":11.7,"y":-14.3},{"t":5,"s":8,"x":8.1,"y":-11.9},{"t":5,"s":9,"x":3.6,"y":-4.3},{"t":5,"s":10,"x":0,"y":0},
{"t":6,"s":0,"x":-18.5,"y":-19.3},{"t":6,"s":1,"x":-15.8,"y":-18.9},{"t":6,"s":2,"x":-8.3,"y":-16},{"t":6,"s":3,"x":-6.3,"y":-13.1},{"t":6,"s":4,"x":-5.9,"y":-9},{"t":6,"s":5,"x":-2.7,"y":-5.5},{"t":6,"s":6,"x":0,"y":0},
{"t":7,"s":0,"x":-3.2,"y":-14.3},{"t":7,"s":1,"x":1.8,"y":-14.3},{"t":7,"s":2,"x":0.9,"y":-16},{"t":7,"s":3,"x":0.5,"y":-7.8},{"t":7,"s":4,"x":0,"y":0},
{"t":8,"s":0,"x":-10.4,"y":7},{"t":8,"s":1,"x":-5.4,"y":7},{"t":8,"s":2,"x":-7.2,"y":5},{"t":8,"s":3,"x":-5.9,"y":8.5},{"t":8,"s":4,"x":-7.2,"y":3.9},{"t":8,"s":5,"x":-9,"y":0.9},{"t":8,"s":6,"x":-5.4,"y":2.7},{"t":8,"s":7,"x":0,"y":0},
{"t":9,"s":0,"x":14.9,"y":-6.7},{"t":9,"s":1,"x":13,"y":-0.8},{"t":9,"s":2,"x":15,"y":-7},{"t":9,"s":3,"x":8.1,"y":-7.8},{"t":9,"s":4,"x":0,"y":0},
{"t":10,"s":0,"x":-6.3,"y":3.9},{"t":10,"s":1,"x":6.3,"y":3.9},{"t":10,"s":2,"x":6.3,"y":-0.8},{"t":10,"s":3,"x":0.9,"y":-0.8},{"t":10,"s":4,"x":0.9,"y":5},{"t":10,"s":5,"x":-2.7,"y":5},{"t":10,"s":6,"x":-2.7,"y":-2.6},{"t":10,"s":7,"x":-9,"y":0.4},{"t":10,"s":8,"x":-4,"y":-3},{"t":10,"s":9,"x":-3,"y":-4},{"t":10,"s":10,"x":2,"y":-3},{"t":10,"s":11,"x":8,"y":1},{"t":10,"s":12,"x":4,"y":2},{"t":10,"s":13,"x":1,"y":-2},{"t":10,"s":14,"x":-3,"y":2},
{"t":11,"s":0,"x":3,"y":2},{"t":11,"s":1,"x":-3,"y":1.5},{"t":11,"s":2,"x":-2.5,"y":-2.5},{"t":11,"s":3,"x":2.5,"y":-2},{"t":11,"s":4,"x":2,"y":1.5},{"t":11,"s":5,"x":-2,"y":0.5},{"t":11,"s":6,"x":-1,"y":-1.5},{"t":11,"s":7,"x":1,"y":-1},{"t":11,"s":8,"x":1,"y":1},{"t":11,"s":9,"x":-4,"y":2},{"t":11,"s":10,"x":-5,"y":-1},{"t":11,"s":11,"x":-2,"y":-3},{"t":11,"s":12,"x":7,"y":-1},{"t":11,"s":13,"x":6,"y":3},
{"t":12,"s":0,"x":9,"y":1},{"t":12,"s":1,"x":6,"y":-1},{"t":12,"s":2,"x":-1,"y":-1},{"t":12,"s":3,"x":-6,"y":-1.5},{"t":12,"s":4,"x":-4,"y":1},{"t":12,"s":5,"x":1,"y":2},{"t":12,"s":6,"x":4,"y":0},
{"t":13,"s":0,"x":-4,"y":-3},{"t":13,"s":1,"x":-3,"y":2.5},{"t":13,"s":2,"x":-1,"y":-3.5},{"t":13,"s":3,"x":-2,"y":1.5},{"t":13,"s":4,"x":0,"y":-3},{"t":13,"s":5,"x":-3.5,"y":0.5},{"t":13,"s":6,"x":1,"y":-2},{"t":13,"s":7,"x":-1,"y":2},{"t":13,"s":8,"x":2,"y":-3},{"t":13,"s":9,"x":0,"y":2.5},{"t":13,"s":10,"x":-4,"y":-1.5},{"t":13,"s":11,"x":3,"y":1},{"t":13,"s":12,"x":-2,"y":-4},{"t":13,"s":13,"x":2,"y":0},{"t":13,"s":14,"x":-3,"y":-2},{"t":13,"s":15,"x":1,"y":1},{"t":13,"s":16,"x":-1,"y":-2.5},{"t":13,"s":17,"x":3,"y":-1.5},{"t":13,"s":18,"x":-2,"y":0},{"t":13,"s":19,"x":0,"y":-1}
]},
"mark":{"type":"line","color":"#000","strokeWidth":3},
"encoding":{
"x":{"field":"x","type":"quantitative","scale":{"domain":[-60,60],"nice":false,"zero":false},"axis":{"title":null,"offset":-324,"values":[-60,-50,-40,-30,-20,-10,10,20,30,40,50,60],"labelFontSize":25,"labelColor":"#333","tickSize":11,"tickWidth":3,"domainWidth":3.5,"labelPadding":3}},
"y":{"field":"y","type":"quantitative","scale":{"domain":[-80,80],"nice":false,"zero":false},"axis":{"title":null,"offset":-340,"values":[-80,-70,-60,-50,-40,-30,-20,-10,10,20,30,40,50,60,70,80],"labelFontSize":25,"labelColor":"#333","tickSize":12,"tickWidth":3,"domainWidth":3.5,"labelPadding":2}},
"detail":{"field":"t"},"order":{"field":"s"}}}
]},
{"data":{"values":[{"v":0}]},"mark":{"type":"point","opacity":0},"width":736,"height":1},
{"bounds":"flush","spacing":0,"vconcat":[
{"data":{"values":[{"v":0}]},"mark":{"type":"point","opacity":0},"width":1,"height":40},
{"bounds":"flush","spacing":0,"hconcat":[
{"data":{"values":[{"v":0}]},"mark":{"type":"point","opacity":0},"width":11,"height":1},
{"width":526,"height":628,
"data":{"values":[{"group":"siCTRL","mean":0.526,"top":0.568,"sig":""},{"group":"siAXL9","mean":0.3415,"top":0.371,"sig":"**"},{"group":"siAXL10","mean":0.326,"top":0.381,"sig":"**"}]},
"encoding":{
"x":{"field":"group","type":"nominal","scale":{"domain":["siCTRL","siAXL9","siAXL10"],"paddingInner":0.331,"paddingOuter":0.168,"align":0.458},"axis":{"title":null,"labelAngle":0,"labelFontSize":{"condition":{"test":"datum.value=='siCTRL'","value":40},"value":46},"labelOffset":{"condition":[{"test":"datum.value=='siAXL9'","value":11},{"test":"datum.value=='siAXL10'","value":40}],"value":0},"labelColor":"#222","tickSize":18,"tickWidth":4,"domainWidth":5,"labelPadding":3}},
"y":{"type":"quantitative","scale":{"domain":[0,0.572],"nice":false},"axis":{"title":"Directionality","titleFontSize":39,"titleColor":"#333","titleX":-120,"titleY":306,"titleBaseline":"middle","values":[0,0.05,0.1,0.15,0.2,0.25,0.3,0.35,0.4,0.45,0.5,0.55],"labelExpr":"abs(datum.value*10-round(datum.value*10))<0.01 ? format(datum.value,'.1f') : ''","tickSize":{"condition":{"test":"abs(datum.value*10-round(datum.value*10))<0.01","value":18},"value":11},"tickWidth":4,"domainWidth":4,"labelFontSize":38,"labelColor":"#222","labelPadding":2}}
},
"layer":[
{"mark":{"type":"rule","color":"#000","strokeWidth":4},"encoding":{"y":{"field":"mean"},"y2":{"field":"top"}}},
{"mark":{"type":"tick","orient":"horizontal","color":"#000","size":61,"thickness":4,"opacity":1},"encoding":{"y":{"field":"top"}}},
{"mark":{"type":"bar","fill":"#5f5f5f","stroke":"#111","strokeWidth":2.5},"encoding":{"y":{"field":"mean"}}},
{"transform":[{"filter":"datum.group=='siAXL9'"}],"mark":{"type":"text","fontSize":62,"baseline":"alphabetic","dy":-15,"dx":-4},"encoding":{"y":{"field":"top"},"text":{"field":"sig"}}},
{"transform":[{"filter":"datum.group=='siAXL10'"}],"mark":{"type":"text","fontSize":62,"baseline":"alphabetic","dy":-4},"encoding":{"y":{"field":"top"},"text":{"field":"sig"}}}
]}
]},
{"data":{"values":[{"v":0}]},"mark":{"type":"point","opacity":0},"width":1,"height":800},
{"width":677,"height":648,
"data":{"values":[
{"t":1,"s":0,"x":-29.4,"y":28.1},{"t":1,"s":1,"x":-27.3,"y":23.9},{"t":1,"s":2,"x":-26,"y":20},{"t":1,"s":3,"x":-21.3,"y":16},{"t":1,"s":4,"x":-21.1,"y":14.1},{"t":1,"s":5,"x":-19.2,"y":14.1},{"t":1,"s":6,"x":-17.1,"y":12.1},{"t":1,"s":7,"x":-12,"y":12.1},{"t":1,"s":8,"x":-11.6,"y":10.3},{"t":1,"s":9,"x":-12,"y":10},{"t":1,"s":10,"x":-8.2,"y":4.6},{"t":1,"s":11,"x":-7.3,"y":3.8},{"t":1,"s":12,"x":-4.8,"y":3.8},{"t":1,"s":13,"x":0,"y":0},
{"t":2,"s":0,"x":15.2,"y":6.8},{"t":2,"s":1,"x":-3.1,"y":7},{"t":2,"s":2,"x":-3,"y":3.8},{"t":2,"s":3,"x":0,"y":0},
{"t":3,"s":0,"x":11,"y":8.6},{"t":3,"s":1,"x":11,"y":9.9},{"t":3,"s":2,"x":8.8,"y":10.9},{"t":3,"s":3,"x":4.6,"y":7.3},{"t":3,"s":4,"x":2.9,"y":4.2},{"t":3,"s":5,"x":0,"y":0},
{"t":4,"s":0,"x":-12,"y":10},{"t":4,"s":1,"x":-7.3,"y":10},{"t":4,"s":2,"x":-8.2,"y":4.6},{"t":4,"s":3,"x":-7.1,"y":12.1},{"t":4,"s":4,"x":-8.6,"y":6.4},{"t":4,"s":5,"x":-3,"y":3},
{"t":5,"s":0,"x":-3.1,"y":14.1},{"t":5,"s":1,"x":-4.1,"y":10.8},{"t":5,"s":2,"x":-2.6,"y":9.9},{"t":5,"s":3,"x":-4.3,"y":7.3},{"t":5,"s":4,"x":-0.5,"y":3.8},
{"t":6,"s":0,"x":1,"y":-13.3},{"t":6,"s":1,"x":1,"y":-9.8},{"t":6,"s":2,"x":3.1,"y":-8.9},{"t":6,"s":3,"x":2.9,"y":-7.6},{"t":6,"s":4,"x":-0.1,"y":-8.1},{"t":6,"s":5,"x":-1.8,"y":-9.8},{"t":6,"s":6,"x":0,"y":-9.8},{"t":6,"s":7,"x":0,"y":0},
{"t":7,"s":0,"x":7.8,"y":1.1},{"t":7,"s":1,"x":7.1,"y":2.9},{"t":7,"s":2,"x":5.9,"y":-2.5},{"t":7,"s":3,"x":4.6,"y":-6.3},{"t":7,"s":4,"x":7.8,"y":1.1},{"t":7,"s":5,"x":5.4,"y":-6.3},{"t":7,"s":6,"x":4.2,"y":-3.2},{"t":7,"s":7,"x":0,"y":1},{"t":7,"s":8,"x":7,"y":1},
{"t":8,"s":0,"x":-12,"y":-6.3},{"t":8,"s":1,"x":-8.2,"y":-2.4},{"t":8,"s":2,"x":-9,"y":-5},{"t":8,"s":3,"x":-5.6,"y":-2.8},{"t":8,"s":4,"x":-8.2,"y":-6.7},{"t":8,"s":5,"x":-3,"y":-1},
{"t":9,"s":0,"x":-9.9,"y":1.1},{"t":9,"s":1,"x":-3.5,"y":-0.1},{"t":9,"s":2,"x":-9.9,"y":-1.5},{"t":9,"s":3,"x":-3,"y":-2},
{"t":10,"s":0,"x":4,"y":4},{"t":10,"s":1,"x":-4,"y":3},{"t":10,"s":2,"x":-4,"y":-4},{"t":10,"s":3,"x":3,"y":-4},{"t":10,"s":4,"x":4,"y":2},{"t":10,"s":5,"x":-3,"y":5},{"t":10,"s":6,"x":0,"y":-6},{"t":10,"s":7,"x":3,"y":3},{"t":10,"s":8,"x":-3,"y":-3},{"t":10,"s":9,"x":4,"y":-1},{"t":10,"s":10,"x":-4,"y":1},{"t":10,"s":11,"x":1,"y":5},{"t":10,"s":12,"x":2,"y":-5},{"t":10,"s":13,"x":-2,"y":4},{"t":10,"s":14,"x":3.5,"y":-3},{"t":10,"s":15,"x":-3.5,"y":-1},{"t":10,"s":16,"x":2.5,"y":4.5},{"t":10,"s":17,"x":0,"y":-4},{"t":10,"s":18,"x":-2.5,"y":2},{"t":10,"s":19,"x":3,"y":0},{"t":10,"s":20,"x":-3,"y":-2},{"t":10,"s":21,"x":2,"y":2},{"t":10,"s":22,"x":-1,"y":-5},{"t":10,"s":23,"x":4,"y":3},{"t":10,"s":24,"x":-4,"y":-2},{"t":10,"s":25,"x":1,"y":3},{"t":10,"s":26,"x":-2,"y":-3},{"t":10,"s":27,"x":2,"y":-1},{"t":10,"s":28,"x":-1,"y":1},{"t":10,"s":29,"x":1,"y":-2},
{"t":11,"s":0,"x":-3.9,"y":-6.7},{"t":11,"s":1,"x":-3.9,"y":-5},{"t":11,"s":2,"x":-1.8,"y":-5},{"t":11,"s":3,"x":-1.8,"y":-6.7},{"t":11,"s":4,"x":-3.9,"y":-6.7},
{"t":12,"s":0,"x":-3,"y":7},{"t":12,"s":1,"x":4,"y":7},{"t":12,"s":2,"x":4,"y":2},{"t":12,"s":3,"x":-3,"y":2},{"t":12,"s":4,"x":-3,"y":6},{"t":12,"s":5,"x":2,"y":8.5},{"t":12,"s":6,"x":2,"y":3},
{"t":13,"s":0,"x":4,"y":-1},{"t":13,"s":1,"x":4,"y":1.5},{"t":13,"s":2,"x":7,"y":1.5},
{"t":14,"s":0,"x":-3,"y":4},{"t":14,"s":1,"x":-3.5,"y":-4},{"t":14,"s":2,"x":-2,"y":4.5},{"t":14,"s":3,"x":-2.5,"y":-4.5},{"t":14,"s":4,"x":-1,"y":4.5},{"t":14,"s":5,"x":-1.5,"y":-4.5},{"t":14,"s":6,"x":0,"y":4.5},{"t":14,"s":7,"x":-0.5,"y":-4.5},{"t":14,"s":8,"x":1,"y":4.5},{"t":14,"s":9,"x":0.5,"y":-4.5},{"t":14,"s":10,"x":2,"y":4},{"t":14,"s":11,"x":1.5,"y":-4.5},{"t":14,"s":12,"x":3,"y":3.5},{"t":14,"s":13,"x":2.5,"y":-4},{"t":14,"s":14,"x":3.5,"y":2},{"t":14,"s":15,"x":3,"y":-3}
]},
"mark":{"type":"line","color":"#000","strokeWidth":3},
"encoding":{
"x":{"field":"x","type":"quantitative","scale":{"domain":[-60,60],"nice":false,"zero":false},"axis":{"title":null,"offset":-324,"values":[-60,-50,-40,-30,-20,-10,10,20,30,40,50,60],"labelFontSize":25,"labelColor":"#333","tickSize":11,"tickWidth":3,"domainWidth":3.5,"labelPadding":3}},
"y":{"field":"y","type":"quantitative","scale":{"domain":[-60,60],"nice":false,"zero":false},"axis":{"title":null,"offset":-338.5,"values":[-60,-50,-40,-30,-20,-10,10,20,30,40,50,60],"labelFontSize":25,"labelColor":"#333","tickSize":12,"tickWidth":3,"domainWidth":3.5,"labelPadding":2}},
"detail":{"field":"t"},"order":{"field":"s"}}}
]}
]
}
]
}
